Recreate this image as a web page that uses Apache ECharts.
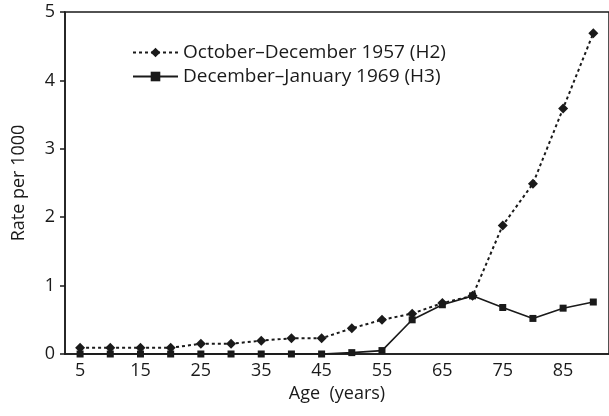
<!DOCTYPE html>
<html><head><meta charset="utf-8">
<script src="https://cdn.jsdelivr.net/npm/echarts@6/dist/echarts.min.js"></script>
<style>html,body{margin:0;padding:0;background:#fff}#c{width:609px;height:416px}</style>
</head><body><div id="c"></div>
<script>
const ages = [5,10,15,20,25,30,35,40,45,50,55,60,65,70,75,80,85,90];
const h2_1957 = [0.09,0.09,0.09,0.09,0.15,0.15,0.195,0.23,0.23,0.375,0.50,0.59,0.745,0.85,1.88,2.49,3.59,4.69];
const h3_1969 = [0,0,0,0,0,0,0,0,0,0.02,0.05,0.50,0.72,0.85,0.68,0.52,0.67,0.76];
const xTicks = [5,15,25,35,45,55,65,75,85];
const seriesNames = ['October–December 1957 (H2)','December–January 1969 (H3)'];

const font = 'Open Sans';
const ink = '#1a1a1a';
const chart = echarts.init(document.getElementById('c'), null, {renderer:'canvas'});
chart.setOption({
  animation:false,
  textStyle:{fontFamily:font},
  grid:{left:65,right:-4,top:12,bottom:62,show:true,borderColor:ink,borderWidth:1.5,containLabel:false},
  legend:{
    orient:'vertical',left:127,top:38,itemGap:5,itemWidth:45,itemHeight:12,
    textStyle:{fontFamily:font,fontSize:19,color:ink},
    data:seriesNames
  },
  xAxis:{
    type:'value',min:2.5,max:92.6,
    name:'Age  (years)',nameLocation:'middle',nameGap:31,
    nameTextStyle:{fontFamily:font,fontSize:18,color:ink},
    axisLine:{show:true,lineStyle:{color:ink,width:1.5}},
    axisTick:{show:false},
    splitLine:{show:false},
    axisLabel:{customValues:xTicks,fontFamily:font,fontSize:18,color:ink,margin:8}
  },
  yAxis:{
    type:'value',min:0,max:5,interval:1,
    name:'Rate per 1000',nameLocation:'middle',nameGap:37,nameRotate:90,
    nameTextStyle:{fontFamily:font,fontSize:18,color:ink},
    axisLine:{show:true,lineStyle:{color:ink,width:1.5}},
    axisTick:{show:true,inside:false,length:5,lineStyle:{color:ink,width:1.5}},
    splitLine:{show:false},
    axisLabel:{fontFamily:font,fontSize:18,color:ink,margin:10}
  },
  series:[
    {name:seriesNames[0],type:'line',data:ages.map((a,i)=>[a,h2_1957[i]]),
     symbol:'diamond',symbolSize:10,
     itemStyle:{color:ink},
     lineStyle:{color:ink,width:2,type:[3,3]}},
    {name:seriesNames[1],type:'line',data:ages.map((a,i)=>[a,h3_1969[i]]),
     symbol:'rect',symbolSize:7,
     itemStyle:{color:ink},
     lineStyle:{color:ink,width:1.6,type:'solid'}}
  ]
});
</script></body></html>
